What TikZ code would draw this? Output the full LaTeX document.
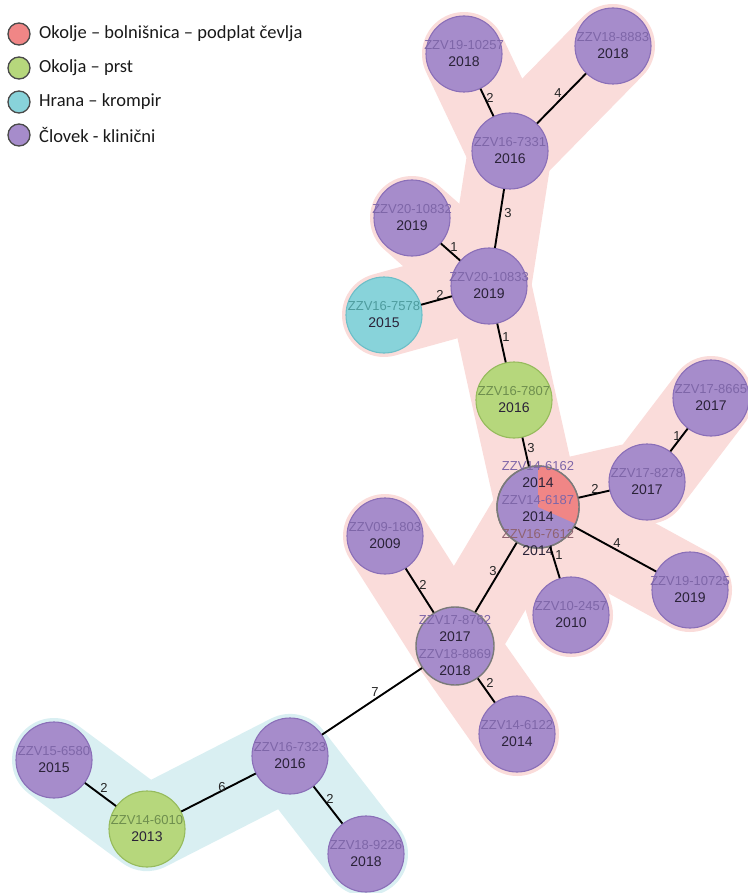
\documentclass[tikz,border=0pt]{standalone}
\usepackage{fontspec}
\setmainfont{Liberation Sans}
\newfontfamily\legendfont{Carlito}
\usetikzlibrary{backgrounds}
\definecolor{purp}{HTML}{A68CCB}
\definecolor{purpd}{HTML}{8A6FB8}
\definecolor{greenf}{HTML}{B6D77C}
\definecolor{greend}{HTML}{96BB5C}
\definecolor{cyanf}{HTML}{88D3DA}
\definecolor{cyand}{HTML}{6CBFC8}
\definecolor{redf}{HTML}{F08686}
\definecolor{grayb}{HTML}{7A7A7A}
\definecolor{idpurp}{HTML}{7E66A8}
\definecolor{idgreen}{HTML}{6E8E4E}
\definecolor{idcyan}{HTML}{4E9C9E}
\definecolor{idbrown}{HTML}{8F6270}
\definecolor{yeark}{HTML}{2A2238}
\definecolor{bandpink}{HTML}{FADCDA}
\definecolor{bandcyan}{HTML}{D9EFF2}
\definecolor{legb}{HTML}{4A4A4A}
\newcommand\myid[2][idpurp]{\textcolor{#1}{\fontsize{13}{17}\selectfont #2}}
\begin{document}
\begin{tikzpicture}[x=1pt,y=-1pt,
  pnode/.style={circle, minimum size=76pt, inner sep=0pt, fill=purp, draw=purpd, line width=1.1pt},
  gnode/.style={pnode, fill=greenf, draw=greend},
  cnode/.style={pnode, fill=cyanf, draw=cyand},
  txt/.style={align=center, inner sep=0pt, text=yeark, font=\fontsize{14}{17}\selectfont},
  edge/.style={black, line width=1.9pt},
  elab/.style={inner sep=0pt, font=\fontsize{13}{13}\selectfont, text=black!85},
  pband/.style={draw=bandpink, line width=84pt, line cap=round, line join=round},
  cband/.style={draw=bandcyan, line width=84pt, line cap=round, line join=round},
  legc/.style={circle, minimum size=22pt, inner sep=0pt, draw=legb, line width=1.3pt},
  legt/.style={anchor=west, inner sep=0pt, text=black!90, font=\legendfont\fontsize{18.5}{20}\selectfont}
]
\useasboundingbox (0,0) rectangle (747,893);
% legend
\node[legc, fill=redf] (lg1) at (19,34) {};
\node[legc, fill=greenf] (lg2) at (19,68) {};
\node[legc, fill=cyanf] (lg3) at (19,102) {};
\node[legc, fill=purp] (lg4) at (19,135) {};
\node[legt] (lt1) at (39,34) {Okolje – bolnišnica – podplat čevlja};
\node[legt] (lt2) at (39,68) {Okolja – prst};
\node[legt] (lt3) at (39,102) {Hrana – krompir};
\node[legt] (lt4) at (39,135) {Človek - klinični};
% nodes
\node[pnode] (a) at (464,54) {};
\node[pnode] (b) at (613,46) {};
\node[pnode] (c) at (510,151) {};
\node[pnode] (d) at (412,218) {};
\node[pnode] (e) at (489,286) {};
\node[cnode] (f) at (384,315) {};
\node[gnode] (g) at (514,400) {};
\node[pnode, minimum size=82pt, draw=grayb, line width=1.4pt] (h) at (538,507) {};
\fill[redf] (h.center) -- ++(90:41pt) arc[start angle=90, end angle=-24, radius=41pt] -- cycle;
\draw[grayb, line width=1.4pt] (h.center) circle (41pt);
\node[pnode] (i) at (647,482) {};
\node[pnode] (j) at (711,398) {};
\node[pnode] (k) at (690,590) {};
\node[pnode] (l) at (571,615) {};
\node[pnode] (m) at (385,536) {};
\node[pnode, minimum size=78pt, draw=grayb, line width=1.4pt] (n) at (455,646) {};
\node[pnode] (o) at (517,734) {};
\node[pnode] (p) at (290,756) {};
\node[pnode] (q) at (54,760) {};
\node[gnode] (r) at (147,829) {};
\node[pnode] (s) at (366,854) {};
% texts
\node[txt] (a-t) at (a) {\myid{ZZV19-10257}\\2018};
\node[txt] (b-t) at (b) {\myid{ZZV18-8883}\\2018};
\node[txt] (c-t) at (c) {\myid{ZZV16-7331}\\2016};
\node[txt] (d-t) at (d) {\myid{ZZV20-10832}\\2019};
\node[txt] (e-t) at (e) {\myid{ZZV20-10833}\\2019};
\node[txt] (f-t) at (f) {\myid[idcyan]{ZZV16-7578}\\2015};
\node[txt] (g-t) at (g) {\myid[idgreen]{ZZV16-7807}\\2016};
\node[txt] (h-t) at ([yshift=-1.5]h.center) {\myid{ZZV14-6162}\\2014\\\myid{ZZV14-6187}\\2014\\\myid[idbrown]{ZZV16-7612}\\2014};
\node[txt] (i-t) at (i) {\myid{ZZV17-8278}\\2017};
\node[txt] (j-t) at (j) {\myid{ZZV17-8665}\\2017};
\node[txt] (k-t) at (k) {\myid{ZZV19-10725}\\2019};
\node[txt] (l-t) at (l) {\myid{ZZV10-2457}\\2010};
\node[txt] (m-t) at (m) {\myid{ZZV09-1803}\\2009};
\node[txt] (n-t) at (n) {\myid{ZZV17-8762}\\2017\\\myid{ZZV18-8869}\\2018};
\node[txt] (o-t) at (o) {\myid{ZZV14-6122}\\2014};
\node[txt] (p-t) at (p) {\myid{ZZV16-7323}\\2016};
\node[txt] (q-t) at (q) {\myid{ZZV15-6580}\\2015};
\node[txt] (r-t) at (r) {\myid[idgreen]{ZZV14-6010}\\2013};
\node[txt] (s-t) at (s) {\myid{ZZV18-9226}\\2018};
% edges
\draw[edge] (a) -- (c);
\draw[edge] (b) -- (c);
\draw[edge] (c) -- (e);
\draw[edge] (d) -- (e);
\draw[edge] (f) -- (e);
\draw[edge] (e) -- (g);
\draw[edge] (g) -- (h);
\draw[edge] (h) -- (i);
\draw[edge] (i) -- (j);
\draw[edge] (h) -- (k);
\draw[edge] (h) -- (l);
\draw[edge] (h) -- (n);
\draw[edge] (m) -- (n);
\draw[edge] (n) -- (o);
\draw[edge] (n) -- (p);
\draw[edge] (p) -- (r);
\draw[edge] (q) -- (r);
\draw[edge] (p) -- (s);
% edge labels
\node[elab] (l-ac) at (490,98) {2};
\node[elab] (l-bc) at (558,93) {4};
\node[elab] (l-ce) at (508,213) {3};
\node[elab] (l-de) at (454,247) {1};
\node[elab] (l-fe) at (440,295) {2};
\node[elab] (l-eg) at (506,337) {1};
\node[elab] (l-gh) at (531,448) {3};
\node[elab] (l-hi) at (595,489) {2};
\node[elab] (l-ij) at (677,436) {1};
\node[elab] (l-hk) at (617,543) {4};
\node[elab] (l-hl) at (559,555) {1};
\node[elab] (l-hn) at (493,571) {3};
\node[elab] (l-mn) at (423,585) {2};
\node[elab] (l-no) at (490,683) {2};
\node[elab] (l-np) at (375,692) {7};
\node[elab] (l-pr) at (222,787) {6};
\node[elab] (l-qr) at (104,788) {2};
\node[elab] (l-ps) at (330,799) {2};
% halos
\begin{scope}[on background layer]
\draw[pband] (a.center) -- (c.center) -- (b.center);
\draw[pband] (c.center) -- (e.center);
\draw[pband] (d.center) -- (e.center) -- (f.center);
\draw[pband] (e.center) -- (g.center) -- (h.center);
\draw[pband] (h.center) -- (i.center) -- (j.center);
\draw[pband] (h.center) -- (k.center);
\draw[pband] (h.center) -- (l.center);
\draw[pband] (h.center) -- (n.center);
\draw[pband] (m.center) -- (n.center) -- (o.center);
\draw[cband] (q.center) -- (r.center) -- (p.center) -- (s.center);
\end{scope}
\end{tikzpicture}
\end{document}
